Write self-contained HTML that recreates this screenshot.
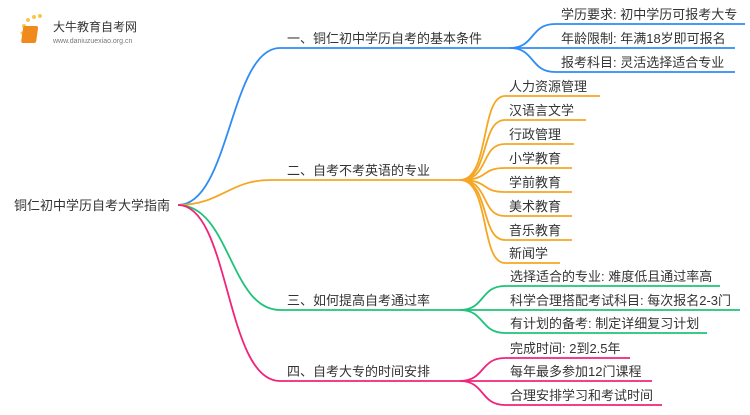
<!DOCTYPE html>
<html><head><meta charset="utf-8"><style>
html,body{margin:0;padding:0;background:#fff;}
svg text{font-family:"Liberation Sans","Noto Sans CJK SC",sans-serif;font-size:13px;fill:#333;}
</style></head><body>
<svg width="750" height="410" viewBox="0 0 750 410" xmlns="http://www.w3.org/2000/svg">
<g>
<circle cx="24" cy="26" r="2" fill="#f9c64a"/><circle cx="28" cy="20" r="2" fill="#f9c64a"/><circle cx="34" cy="17" r="2" fill="#f9c64a"/><circle cx="40" cy="16" r="2" fill="#f9c64a"/>
<circle cx="22" cy="33" r="1.5" fill="#f9c64a"/><circle cx="24" cy="40" r="1.5" fill="#f9c64a"/>
<rect x="27" y="26" width="15" height="17" rx="2" fill="#f08a1c" transform="skewX(-8)"/>
<text x="53" y="31" style="font-size:12px;fill:#333">大牛教育自考网</text>
<text x="53" y="43" style="font-size:7px;fill:#777">www.daniuzuexiao.org.cn</text>
</g>
<text x="14" y="210">铜仁初中学历自考大学指南</text>
<g fill="none" stroke-width="1.8">
<path d="M178 205 C230 205,230 48,280 48 L510 48" stroke="#2f8cf5"/>
<path d="M510 48 C535 48,530 24,555 24 L745 24" stroke="#2f8cf5"/>
<path d="M510 48 L735 48" stroke="#2f8cf5"/>
<path d="M510 48 C535 48,530 72,555 72 L735 72" stroke="#2f8cf5"/>
<path d="M178 205 C220 205,230 180,270 180 L460 180" stroke="#f5a623"/>
<path d="M460 180 C490 180,480 96,505 96 L600 96" stroke="#f5a623"/>
<path d="M460 180 C490 180,480 120,505 120 L586 120" stroke="#f5a623"/>
<path d="M460 180 C490 180,480 144,505 144 L574 144" stroke="#f5a623"/>
<path d="M460 180 C490 180,480 168,505 168 L572 168" stroke="#f5a623"/>
<path d="M460 180 C490 180,480 192,505 192 L572 192" stroke="#f5a623"/>
<path d="M460 180 C490 180,480 216,505 216 L572 216" stroke="#f5a623"/>
<path d="M460 180 C490 180,480 240,505 240 L572 240" stroke="#f5a623"/>
<path d="M460 180 C490 180,480 263,505 263 L560 263" stroke="#f5a623"/>
<path d="M178 205 C230 205,230 310,280 310 L460 310" stroke="#1fc27a"/>
<path d="M460 310 C485 310,480 286,505 286 L720 286" stroke="#1fc27a"/>
<path d="M460 310 L740 310" stroke="#1fc27a"/>
<path d="M460 310 C485 310,480 333,505 333 L707 333" stroke="#1fc27a"/>
<path d="M178 205 C230 205,225 381,280 381 L460 381" stroke="#f0247a"/>
<path d="M460 381 C485 381,480 358,505 358 L630 358" stroke="#f0247a"/>
<path d="M460 381 L652 381" stroke="#f0247a"/>
<path d="M460 381 C485 381,480 405,505 405 L662 405" stroke="#f0247a"/>
</g>
<text x="287" y="43">一、铜仁初中学历自考的基本条件</text>
<text x="561" y="19">学历要求: 初中学历可报考大专</text>
<text x="561" y="43">年龄限制: 年满18岁即可报名</text>
<text x="561" y="67">报考科目: 灵活选择适合专业</text>
<text x="287" y="175">二、自考不考英语的专业</text>
<text x="509" y="91">人力资源管理</text>
<text x="509" y="115">汉语言文学</text>
<text x="509" y="139">行政管理</text>
<text x="509" y="163">小学教育</text>
<text x="509" y="187">学前教育</text>
<text x="509" y="211">美术教育</text>
<text x="509" y="235">音乐教育</text>
<text x="509" y="258">新闻学</text>
<text x="287" y="305">三、如何提高自考通过率</text>
<text x="510" y="281">选择适合的专业: 难度低且通过率高</text>
<text x="510" y="305">科学合理搭配考试科目: 每次报名2-3门</text>
<text x="510" y="328">有计划的备考: 制定详细复习计划</text>
<text x="287" y="376">四、自考大专的时间安排</text>
<text x="510" y="353">完成时间: 2到2.5年</text>
<text x="510" y="376">每年最多参加12门课程</text>
<text x="510" y="400">合理安排学习和考试时间</text>
</svg>
</body></html>
